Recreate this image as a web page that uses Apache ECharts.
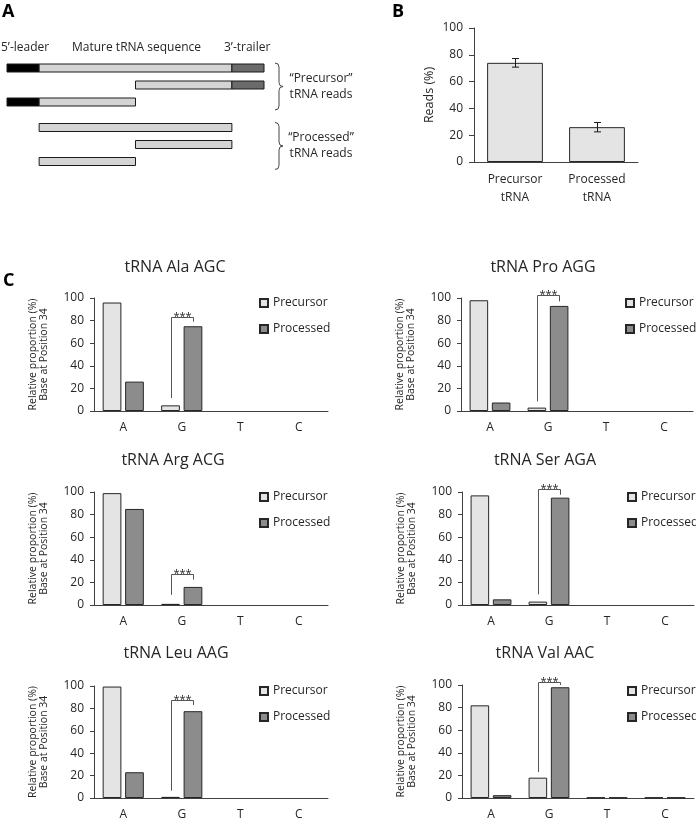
<!DOCTYPE html>
<html><head><meta charset="utf-8">
<script src="https://cdn.jsdelivr.net/npm/echarts@6/dist/echarts.min.js"></script>
<style>html,body{margin:0;padding:0;background:#fff}#c{width:696px;height:821px}</style>
</head><body><div id="c"></div>
<script>
// ---------- Panel A data (schematic reads, sequence coordinates) ----------
const sequenceLength = 80;
const leaderEnd = 10;
const matureEnd = 70;
const readRows  = [0, 1, 2, 3.5, 4.5, 5.5];
const readStart = [0, 40, 0, 10, 40, 10];
const readEnd   = [80, 80, 40, 70, 70, 40];
const readGroupLabels = ['\u201cPrecursor\u201d\ntRNA reads', '\u201cProcessed\u201d\ntRNA reads'];
const readGroupRows = [[0, 2], [3.5, 5.5]];
const regionLabels = ['5\u2019-leader', 'Mature tRNA sequence', '3\u2019-trailer'];

// ---------- Panel B data ----------
const bCategories = ['Precursor\ntRNA', 'Processed\ntRNA'];
const bValues = [74, 26];
const bErrors = [3.2, 3.5];

// ---------- Panel C data ----------
const bases = ['A', 'G', 'T', 'C'];
const seriesNames = ['Precursor', 'Processed'];
const trnaTitles = ['tRNA Ala AGC', 'tRNA Pro AGG', 'tRNA Arg ACG', 'tRNA Ser AGA', 'tRNA Leu AAG', 'tRNA Val AAC'];
const precursorAla = [96, 5, 0, 0];
const processedAla = [26, 75, 0, 0];
const precursorPro = [98, 3, 0, 0];
const processedPro = [7.5, 93, 0, 0];
const precursorArg = [99, 1, 0, 0];
const processedArg = [85, 16, 0, 0];
const precursorSer = [97, 3, 0, 0];
const processedSer = [5, 95, 0, 0];
const precursorLeu = [99.5, 1, 0, 0];
const processedLeu = [23, 77.5, 0, 0];
const precursorVal = [82, 18, 0.4, 0.4];
const processedVal = [2.5, 98, 0.4, 0.4];
// significance bracket on G: [left leg end, bracket top, right leg end]
const bracketAla = [11.5, 83, 79];
const bracketPro = [8.5, 103, 97];
const bracketArg = [9, 27.5, 22.5];
const bracketSer = [9.5, 102.5, 97.5];
const bracketLeu = [6.5, 87.5, 83];
const bracketVal = [23, 102.5, 100];
const yTicks = [0, 20, 40, 60, 80, 100];

const precursors = [precursorAla, precursorPro, precursorArg, precursorSer, precursorLeu, precursorVal];
const processeds = [processedAla, processedPro, processedArg, processedSer, processedLeu, processedVal];
const brackets = [bracketAla, bracketPro, bracketArg, bracketSer, bracketLeu, bracketVal];

// ---------- layout / style ----------
const FONT = '"Open Sans", sans-serif';
const TXT = '#262626';
const AX = '#404040';
const PRE_FILL = '#e4e4e4';
const PRO_FILL = '#8c8c8c';
const BORDER = '#262626';

const cGrids = [
  {left: 94, top: 298, width: 234, height: 113},
  {left: 461, top: 298, width: 232, height: 113},
  {left: 94, top: 492, width: 234, height: 113},
  {left: 462, top: 492, width: 232, height: 113},
  {left: 94, top: 686, width: 234, height: 113},
  {left: 462, top: 685, width: 232, height: 113}
];
const titleCenters = [[175, 270], [543, 270], [173, 463], [545, 463], [176, 656], [545, 656]];
const legendPos = [[259, 296], [625, 296], [259, 490], [627, 490], [259, 684], [627, 684]];

const grids = [];
const xAxes = [];
const yAxes = [];
const series = [];
const legends = [];
const titles = [];

// zero-height bars get no outline
function barItems(arr) {
  return arr.map(v => v === 0 ? {value: 0, itemStyle: {borderWidth: 0}} : v);
}

// Panel A grid (index 0)
grids.push({left: 7, top: 68, width: 257, height: 93.5});
xAxes.push({type: 'value', gridIndex: 0, min: 0, max: sequenceLength, show: false});
yAxes.push({type: 'value', gridIndex: 0, min: 0, max: 5.5, inverse: true, show: false});
const readData = readRows.map((r, i) => [readStart[i], readEnd[i], r]);
series.push({
  type: 'custom', xAxisIndex: 0, yAxisIndex: 0, clip: false, silent: true,
  encode: {x: [0, 1], y: 2},
  data: readData,
  renderItem: function (params, api) {
    const s = api.value(0), e = api.value(1), r = api.value(2);
    const h = 8;
    const regions = [[0, leaderEnd, '#000000'], [leaderEnd, matureEnd, '#d4d4d4'], [matureEnd, sequenceLength, '#6b6b6b']];
    const children = [];
    regions.forEach(([a, b, col]) => {
      const x0 = Math.max(a, s), x1 = Math.min(b, e);
      if (x1 <= x0) return;
      const p0 = api.coord([x0, r]), p1 = api.coord([x1, r]);
      children.push({type: 'rect', shape: {x: p0[0], y: p0[1] - h / 2, width: p1[0] - p0[0], height: h},
        style: {fill: col, stroke: '#1a1a1a', lineWidth: 1}});
    });
    return {type: 'group', children: children};
  }
});
series.push({
  type: 'custom', xAxisIndex: 0, yAxisIndex: 0, clip: false, silent: true,
  encode: {x: 2, y: [0, 1]},
  data: readGroupRows.map((g, i) => [g[0], g[1], sequenceLength, i]),
  renderItem: function (params, api) {
    const p0 = api.coord([api.value(2), api.value(0)]);
    const p1 = api.coord([api.value(2), api.value(1)]);
    const xl = p0[0] + 11, xm = xl + 4, xt = xl + 8;
    const top = p0[1] - 5, bot = p1[1] + 8, mid = (top + bot) / 2;
    const d = `M${xl},${top} Q${xm},${top} ${xm},${top + 4} L${xm},${mid - 4} Q${xm},${mid} ${xt},${mid} Q${xm},${mid} ${xm},${mid + 4} L${xm},${bot - 4} Q${xm},${bot} ${xl},${bot}`;
    return {type: 'group', children: [
      {type: 'path', shape: {pathData: d}, style: {fill: null, stroke: '#444', lineWidth: 1}},
      {type: 'text', x: xl + 46, y: mid, style: {text: readGroupLabels[api.value(3)], fill: TXT, font: '12px ' + FONT, textAlign: 'center', textVerticalAlign: 'middle', lineHeight: 16}}
    ]};
  }
});

// Panel B grid (index 1)
grids.push({left: 474, top: 28, width: 164, height: 134});
xAxes.push({type: 'category', gridIndex: 1, data: bCategories,
  axisLine: {lineStyle: {color: AX}}, axisTick: {show: false},
  axisLabel: {color: TXT, fontFamily: FONT, fontSize: 12, lineHeight: 18, margin: 9}});
yAxes.push({type: 'value', gridIndex: 1, min: 0, max: 100, interval: 20,
  name: 'Reads (%)', nameLocation: 'middle', nameGap: 38,
  nameTextStyle: {color: TXT, fontFamily: FONT, fontSize: 12.5},
  axisLine: {show: true, lineStyle: {color: AX}}, axisTick: {show: true, length: 5, lineStyle: {color: AX}},
  splitLine: {show: false},
  axisLabel: {color: TXT, fontFamily: FONT, fontSize: 12, margin: 11}});
series.push({type: 'bar', xAxisIndex: 1, yAxisIndex: 1, data: bValues, barWidth: '68%', silent: true, z: 2,
  itemStyle: {color: PRE_FILL, borderColor: BORDER, borderWidth: 1}});
series.push({type: 'custom', xAxisIndex: 1, yAxisIndex: 1, silent: true, clip: false, z: 10,
  data: bValues.map((v, i) => [i, v, bErrors[i]]),
  encode: {x: 0, y: 1},
  renderItem: function (params, api) {
    const i = api.value(0), v = api.value(1), e = api.value(2);
    const lo = api.coord([i, v - e]), hi = api.coord([i, v + e]);
    const x = Math.round(lo[0]) + 0.5, w = 3.5;
    const st = {stroke: '#1a1a1a', lineWidth: 1};
    return {type: 'group', children: [
      {type: 'line', z2: 10, shape: {x1: x, y1: lo[1], x2: x, y2: hi[1]}, style: st},
      {type: 'line', z2: 10, shape: {x1: x - w, y1: lo[1], x2: x + w, y2: lo[1]}, style: st},
      {type: 'line', z2: 10, shape: {x1: x - w, y1: hi[1], x2: x + w, y2: hi[1]}, style: st}
    ]};
  }
});

// Panel C grids (index 2..7)
cGrids.forEach((g, k) => {
  const gi = k + 2;
  grids.push(g);
  xAxes.push({type: 'category', gridIndex: gi, data: bases,
    axisLine: {lineStyle: {color: AX}}, axisTick: {show: false},
    axisLabel: {color: TXT, fontFamily: FONT, fontSize: 12, margin: 11}});
  yAxes.push({type: 'value', gridIndex: gi, min: yTicks[0], max: yTicks[yTicks.length - 1], interval: 20,
    name: 'Relative proportion (%)\nBase at Position 34', nameLocation: 'middle', nameGap: 44,
    nameTextStyle: {color: TXT, fontFamily: FONT, fontSize: 10.5, lineHeight: 11},
    axisLine: {show: true, lineStyle: {color: AX}}, axisTick: {show: true, length: 4, lineStyle: {color: AX}},
    splitLine: {show: false},
    axisLabel: {color: TXT, fontFamily: FONT, fontSize: 12, margin: 10}});
  series.push({type: 'bar', name: seriesNames[0], xAxisIndex: gi, yAxisIndex: gi, data: barItems(precursors[k]),
    barWidth: '32%', barGap: '20%', silent: true,
    itemStyle: {color: PRE_FILL, borderColor: BORDER, borderWidth: 1}});
  series.push({type: 'bar', name: seriesNames[1], xAxisIndex: gi, yAxisIndex: gi, data: barItems(processeds[k]),
    barWidth: '32%', barGap: '20%', silent: true,
    itemStyle: {color: PRO_FILL, borderColor: BORDER, borderWidth: 1}});
  series.push({type: 'custom', xAxisIndex: gi, yAxisIndex: gi, silent: true, clip: false, z: 10,
    data: [[1].concat(brackets[k])],
    encode: {x: 0, y: [1, 2, 3]},
    renderItem: function (params, api) {
      const cat = api.value(0);
      const pL = api.coord([cat, api.value(1)]);
      const pT = api.coord([cat, api.value(2)]);
      const pR = api.coord([cat, api.value(3)]);
      const bw = api.size([1, 0])[0];
      const off = bw * 0.32 * 1.2 / 2;
      const xL = Math.round(pL[0] - off) + 0.5, xR = Math.round(pL[0] + off) + 0.5;
      const yT = Math.round(pT[1]) + 0.5;
      return {type: 'group', children: [
        {type: 'polyline', shape: {points: [[xL, pL[1]], [xL, yT], [xR, yT], [xR, pR[1]]]},
          style: {fill: null, stroke: '#555', lineWidth: 1}},
        {type: 'text', x: (xL + xR) / 2, y: yT - 1,
          style: {text: '***', fill: TXT, font: '11px ' + FONT, textAlign: 'center', textVerticalAlign: 'middle'}}
      ]};
    }
  });
  legends.push({orient: 'vertical', left: legendPos[k][0], top: legendPos[k][1], padding: 0,
    itemWidth: 8, itemHeight: 8, itemGap: 12, icon: 'rect', selectedMode: false,
    data: seriesNames,
    textStyle: {color: TXT, fontFamily: FONT, fontSize: 12, lineHeight: 14}});
  titles.push({text: trnaTitles[k], left: titleCenters[k][0], top: titleCenters[k][1] - 11, textAlign: 'center', padding: 0,
    textStyle: {color: TXT, fontFamily: FONT, fontSize: 16, fontWeight: 'normal'}});
});

const graphics = [
  {type: 'text', left: 2, top: 3, style: {text: 'A', font: 'bold 18px ' + FONT, fill: '#000'}},
  {type: 'text', left: 392, top: 3, style: {text: 'B', font: 'bold 18px ' + FONT, fill: '#000'}},
  {type: 'text', left: 3, top: 272, style: {text: 'C', font: 'bold 18px ' + FONT, fill: '#000'}},
  {type: 'text', left: 1, top: 42, style: {text: regionLabels[0], font: '12px ' + FONT, fill: TXT}},
  {type: 'text', left: 72, top: 42, style: {text: regionLabels[1], font: '12px ' + FONT, fill: TXT}},
  {type: 'text', left: 224, top: 42, style: {text: regionLabels[2], font: '12px ' + FONT, fill: TXT}}
];

const chart = echarts.init(document.getElementById('c'), null, {renderer: 'canvas'});
chart.setOption({
  animation: false,
  backgroundColor: '#ffffff',
  textStyle: {fontFamily: FONT},
  title: titles,
  legend: legends,
  grid: grids,
  xAxis: xAxes,
  yAxis: yAxes,
  series: series,
  graphic: graphics
});
</script>
</body></html>
